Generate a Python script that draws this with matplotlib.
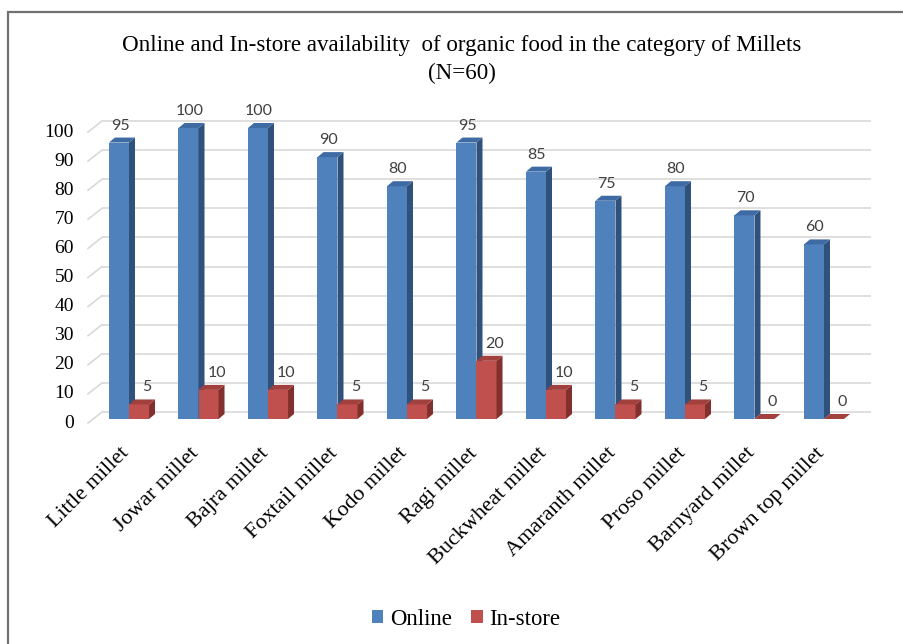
import matplotlib
matplotlib.use("Agg")
import matplotlib.pyplot as plt
import matplotlib.transforms as mtransforms
from matplotlib.patches import Polygon, Patch, Rectangle

categories = ["Little millet", "Jowar millet", "Bajra millet", "Foxtail millet",
              "Kodo millet", "Ragi millet", "Buckwheat millet", "Amaranth millet",
              "Proso millet", "Barnyard millet", "Brown top millet"]
online = [95, 100, 100, 90, 80, 95, 85, 75, 80, 70, 60]
instore = [5, 10, 10, 5, 5, 20, 10, 5, 5, 0, 0]
yticks = list(range(0, 101, 10))
title1 = "Online and In-store availability  of organic food in the category of Millets"
title2 = "(N=60)"
series_names = ["Online", "In-store"]

SERIF = "Liberation Serif"
W, H = 904, 644
fig = plt.figure(figsize=(W / 100, H / 100), dpi=100)
ax = fig.add_axes([88 / W, (H - 423) / H, 769 / W, 291 / H])
xl0, xl1 = -0.59, 10.475
ax.set_xlim(xl0, xl1)
ax.set_ylim(0, 100)
ax.axis("off")

ident = mtransforms.IdentityTransform()


def off(dx, dy):
    return mtransforms.offset_copy(ax.transData, fig=fig, x=dx, y=dy, units="dots")


# back wall gridlines + side wall diagonals
WDX, WDY = 14, 11
wall = off(WDX, WDY)
gcol = "#d9d9d9"
for v in yticks:
    ax.plot([xl0, xl1], [v, v], transform=wall, color=gcol, lw=1.2,
            clip_on=False, zorder=0.5, solid_capstyle="butt")
    p = ax.transData.transform((xl0, v))
    ax.plot([p[0], p[0] + WDX], [p[1], p[1] + WDY], transform=ident,
            color=gcol, lw=1.2, clip_on=False, zorder=0.5)
    ax.text(xl0, v, str(v), transform=off(-14, 0), ha="right", va="center",
            fontsize=14, family=SERIF, color="black")

# 3D-like bars
bw = 0.288
BDY = 4
DX, DY = 6, 5
bt = off(0, BDY)
styles = [
    ("#4F81BD", "#30517C", "#3E6BA3"),
    ("#C0504D", "#82302E", "#A2403D"),
]


def draw_bar(x0, v, cols, z, lab_dx):
    x1 = x0 + bw
    front = Rectangle((x0, 0), bw, v, transform=bt, facecolor=cols[0],
                      edgecolor="none", zorder=z, clip_on=False)
    ax.add_patch(front)
    a = bt.transform([(x1, 0), (x1, v), (x0, v)])
    (rx, by), (_, ty), (lx, _) = a
    side = Polygon([(rx, by), (rx, ty), (rx + DX, ty + DY), (rx + DX, by + DY)],
                   closed=True, transform=ident, facecolor=cols[1],
                   edgecolor="none", zorder=z + 0.01, clip_on=False)
    top = Polygon([(lx, ty), (rx, ty), (rx + DX, ty + DY), (lx + DX, ty + DY)],
                  closed=True, transform=ident, facecolor=cols[2],
                  edgecolor="none", zorder=z + 0.02, clip_on=False)
    ax.add_patch(side)
    ax.add_patch(top)
    ax.text(x0 + bw / 2, v, str(v), transform=off(lab_dx, BDY + 17),
            ha="center", va="center", fontsize=11.5, family="Lato",
            color="#404040", zorder=10)


for i in range(len(categories)):
    draw_bar(i - bw, online[i], styles[0], 2 + i * 0.1, 1)
    draw_bar(i, instore[i], styles[1], 2.05 + i * 0.1, 8)
    ax.text(i, 0, categories[i], transform=off(-9, -21), rotation=45,
            rotation_mode="anchor", ha="right", va="top", fontsize=16,
            family=SERIF, color="black")

# title
fig.text(462 / W, 1 - 45 / H, title1, ha="center", va="center",
         fontsize=16.6, family=SERIF)
fig.text(462 / W, 1 - 73 / H, title2, ha="center", va="center",
         fontsize=16.6, family=SERIF)

# legend
handles = [Patch(facecolor=styles[0][0]), Patch(facecolor=styles[1][0])]
fig.legend(handles, series_names, loc="center", ncol=2,
           bbox_to_anchor=(466 / W, 1 - 619.5 / H), frameon=False,
           prop={"family": SERIF, "size": 16.4}, handlelength=0.5,
           handleheight=0.5, handletextpad=0.3, columnspacing=0.85)

# chart border (right and bottom edges lie outside the picture)
fig.patches.append(Rectangle((8 / W, -0.2), 1.2, (H - 12) / H + 0.2,
                             transform=fig.transFigure, fill=False,
                             edgecolor="#717171", lw=1.6))

fig.savefig("out.png", dpi=100)
